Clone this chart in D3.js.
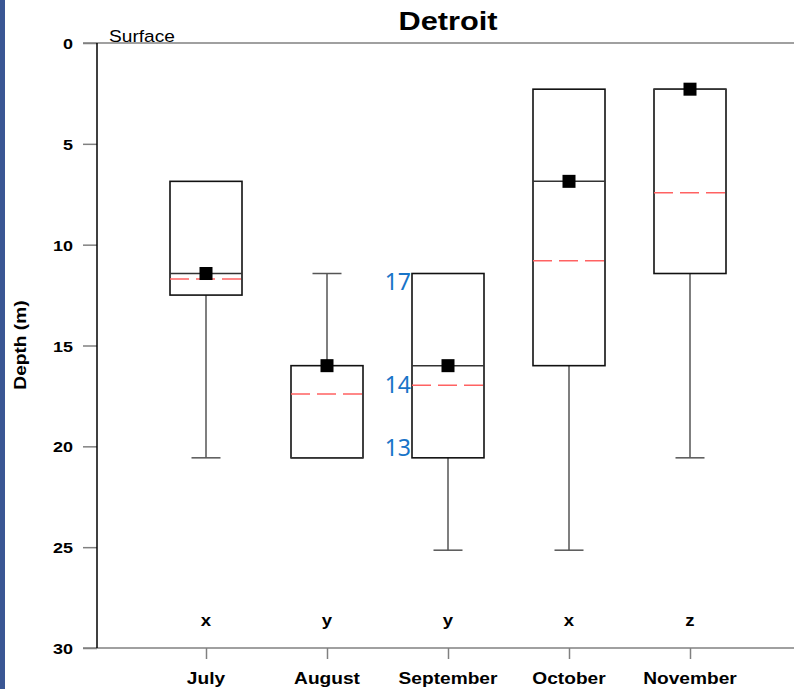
<!DOCTYPE html>
<html>
<head>
  <title>Detroit depth box plot</title>
  <script src="https://d3js.org/d3.v7.min.js"></script>
  <style>
    body { margin: 0; background: #fff; }
    svg { display: block; font-family: Arial, "Liberation Sans", sans-serif; }
  </style>
</head>
<body>
<div id="chart"></div>
<script>
// Months along the bottom, group letters above the axis
var months = ["July", "August", "September", "October", "November"];
var groups = ["x", "y", "y", "x", "z"];

// Depths in metres (0 = surface)
var boxTop = [6.86, 16.0, 11.43, 2.29, 2.29];
var boxBottom = [12.5, 20.57, 20.57, 16.0, 11.43];
var medians = [11.43, 20.57, 16.0, 6.86, 2.29];
var means = [11.7, 17.4, 16.97, 10.8, 7.42];
var markers = [11.43, 16.0, 16.0, 6.86, 2.29];
var whiskerUp = [null, 11.43, null, null, null];
var whiskerDown = [20.57, null, 25.15, 25.15, 20.57];

// Blue annotations next to the September box
var noteLabels = ["17", "14", "13"];
var noteDepths = [11.43, 16.97, 20.57];

var yTicks = [0, 5, 10, 15, 20, 25, 30];

var width = 794, height = 689;
var stretch = 1.16;

var svg = d3.select("#chart").append("svg")
  .attr("width", width)
  .attr("height", height);

// blue strip at the left edge
svg.append("rect")
  .attr("x", 0).attr("y", 0)
  .attr("width", 5).attr("height", height)
  .attr("fill", "#3a5694");

var y = d3.scaleLinear().domain([0, 30]).range([43, 648]);
var x = d3.scalePoint().domain(months).range([206, 690]);

var boxW = 72, capW = 29;

// helper: stretched text like the original export
function label(g, tx, ty, txt, size, weight, anchor, rotate) {
  var t = "translate(" + tx + "," + ty + ")" + (rotate ? " rotate(" + rotate + ")" : "") + " scale(" + stretch + ",1)";
  return g.append("text")
    .attr("transform", t)
    .attr("text-anchor", anchor)
    .style("font-size", size + "px")
    .style("font-weight", weight)
    .attr("fill", "#000")
    .text(txt);
}

// frame lines top and bottom
svg.append("line")
  .attr("x1", 83).attr("x2", width)
  .attr("y1", y(0)).attr("y2", y(0))
  .attr("stroke", "#808080").attr("stroke-width", 1.5);
svg.append("line")
  .attr("x1", 83).attr("x2", width)
  .attr("y1", y(30)).attr("y2", y(30))
  .attr("stroke", "#808080").attr("stroke-width", 1.5);

// y axis
var yAxis = svg.append("g")
  .attr("transform", "translate(97,0)")
  .call(d3.axisLeft(y).tickValues(yTicks).tickSize(14).tickPadding(10));
yAxis.select(".domain").remove();
yAxis.selectAll(".tick line").attr("stroke", "#808080").attr("stroke-width", 1.5);
yAxis.selectAll(".tick text")
  .attr("x", null).attr("dy", null)
  .attr("transform", "translate(-24,5.5) scale(" + stretch + ",1)")
  .style("font-size", "15.5px")
  .style("font-weight", "bold")
  .style("font-family", "Arial, 'Liberation Sans', sans-serif")
  .attr("fill", "#000");
svg.append("line")
  .attr("x1", 97).attr("x2", 97)
  .attr("y1", y(0)).attr("y2", y(30))
  .attr("stroke", "#000").attr("stroke-width", 1.5);

// x axis ticks
var xAxis = svg.append("g")
  .attr("transform", "translate(0," + y(30) + ")")
  .call(d3.axisBottom(x).tickSize(11).tickFormat(""));
xAxis.select(".domain").remove();
xAxis.selectAll(".tick line").attr("stroke", "#808080").attr("stroke-width", 1.5);

months.forEach(function(m) {
  label(svg, x(m), 684, m, 16.5, "bold", "middle");
});
months.forEach(function(m, i) {
  label(svg, x(m), 626, groups[i], 16, "bold", "middle");
});

// titles
label(svg, 448, 30, "Detroit", 26.5, "bold", "middle");
label(svg, 109, 42, "Surface", 16.5, "normal", "start");
label(svg, 26, 345, "Depth (m)", 16.5, "bold", "middle", -90);

// boxes
var plot = svg.append("g");
months.forEach(function(m, i) {
  var cx = x(m);
  if (whiskerDown[i] !== null) {
    plot.append("line")
      .attr("x1", cx).attr("x2", cx)
      .attr("y1", y(boxBottom[i])).attr("y2", y(whiskerDown[i]))
      .attr("stroke", "#555").attr("stroke-width", 1.5);
    plot.append("line")
      .attr("x1", cx - capW / 2).attr("x2", cx + capW / 2)
      .attr("y1", y(whiskerDown[i])).attr("y2", y(whiskerDown[i]))
      .attr("stroke", "#555").attr("stroke-width", 1.5);
  }
  if (whiskerUp[i] !== null) {
    plot.append("line")
      .attr("x1", cx).attr("x2", cx)
      .attr("y1", y(boxTop[i])).attr("y2", y(whiskerUp[i]))
      .attr("stroke", "#555").attr("stroke-width", 1.5);
    plot.append("line")
      .attr("x1", cx - capW / 2).attr("x2", cx + capW / 2)
      .attr("y1", y(whiskerUp[i])).attr("y2", y(whiskerUp[i]))
      .attr("stroke", "#555").attr("stroke-width", 1.5);
  }
  plot.append("rect")
    .attr("x", cx - boxW / 2).attr("y", y(boxTop[i]))
    .attr("width", boxW).attr("height", y(boxBottom[i]) - y(boxTop[i]))
    .attr("fill", "none").attr("stroke", "#111").attr("stroke-width", 1.6);
  plot.append("line")
    .attr("x1", cx - boxW / 2).attr("x2", cx + boxW / 2)
    .attr("y1", y(medians[i])).attr("y2", y(medians[i]))
    .attr("stroke", "#333").attr("stroke-width", 1.5);
  plot.append("line")
    .attr("x1", cx - boxW / 2).attr("x2", cx + boxW / 2)
    .attr("y1", y(means[i])).attr("y2", y(means[i]))
    .attr("stroke", "#ff6262").attr("stroke-width", 1.5)
    .attr("stroke-dasharray", "19,7");
  plot.append("rect")
    .attr("x", cx - 6.5).attr("y", y(markers[i]) - 6.5)
    .attr("width", 13).attr("height", 13)
    .attr("fill", "#000");
});

// blue notes
var sx = x("September") - boxW / 2 - 1;
var noteShift = [16.5, 8, -2];
noteLabels.forEach(function(t, i) {
  svg.append("text")
    .attr("x", sx).attr("y", y(noteDepths[i]) + noteShift[i])
    .attr("text-anchor", "end")
    .style("font-family", "'Noto Sans', 'Open Sans', sans-serif")
    .style("font-size", "23px")
    .attr("fill", "#1874c8")
    .text(t);
});
</script>
</body>
</html>
